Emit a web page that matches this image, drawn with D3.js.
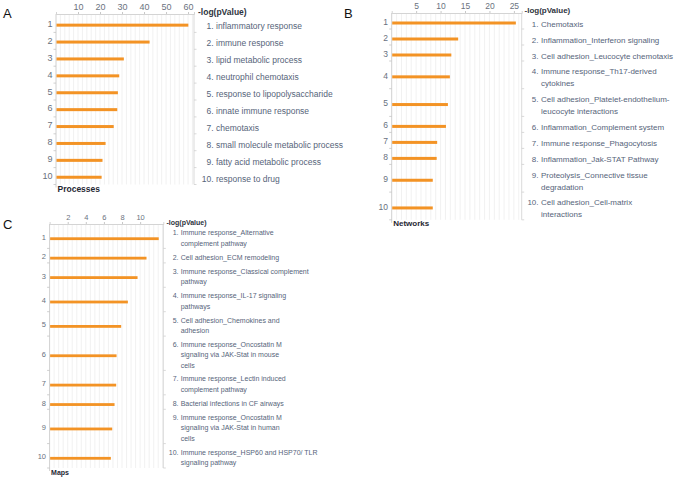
<!DOCTYPE html>
<html><head><meta charset="utf-8">
<script src="https://cdn.jsdelivr.net/npm/d3@7"></script>
<style>
body{margin:0;background:#fff;}
svg{display:block;font-family:"Liberation Sans",Arial,Helvetica,sans-serif;}
</style></head><body>
<svg id="c" width="674" height="479"></svg>
<script>
// ---------- data ----------
const processNames = [
  ["inflammatory response"],["immune response"],["lipid metabolic process"],
  ["neutrophil chemotaxis"],["response to lipopolysaccharide"],["innate immune response"],
  ["chemotaxis"],["small molecule metabolic process"],["fatty acid metabolic process"],
  ["response to drug"]];
const processValues = [59.9, 42.3, 30.6, 28.5, 27.9, 27.6, 26.0, 22.3, 20.9, 20.5];
const processTicks = [10, 20, 30, 40, 50, 60];

const networkNames = [
  ["Chemotaxis"],["Inflammation_Interferon signaling"],["Cell adhesion_Leucocyte chemotaxis"],
  ["Immune response_Th17-derived","cytokines"],["Cell adhesion_Platelet-endothelium-","leucocyte interactions"],
  ["Inflammation_Complement system"],["Immune response_Phagocytosis"],["Inflammation_Jak-STAT Pathway"],
  ["Proteolysis_Connective tissue","degradation"],["Cell adhesion_Cell-matrix","interactions"]];
const networkValues = [25.3, 13.5, 12.1, 11.8, 11.4, 11.0, 9.2, 9.1, 8.3, 8.3];
const networkTicks = [5, 10, 15, 20, 25];

const mapNames = [
  ["Immune response_Alternative","complement pathway"],["Cell adhesion_ECM remodeling"],
  ["Immune response_Classical complement","pathway"],["Immune response_IL-17 signaling","pathways"],
  ["Cell adhesion_Chemokines and","adhesion"],["Immune response_Oncostatin M","signaling via JAK-Stat in mouse","cells"],
  ["Immune response_Lectin induced","complement pathway"],["Bacterial infections in CF airways"],
  ["Immune response_Oncostatin M","signaling via JAK-Stat in human","cells"],
  ["Immune response_HSP60 and HSP70/ TLR","signaling pathway"]];
const mapValues = [12.0, 10.65, 9.66, 8.59, 7.85, 7.34, 7.3, 7.12, 6.86, 6.71];
const mapTicks = [2, 4, 6, 8, 10];

const axisTitle = "-log(pValue)";

// ---------- drawing ----------
const svg = d3.select("#c");
const BAR = "#f39325";

function panel(o){
  const g = svg.append("g");
  const x = d3.scaleLinear().domain([0, o.max]).range([o.left, o.right]);
  // row layout
  const heights = o.names.map(n => o.rowBase + o.rowPer * n.length);
  const starts = [];
  let acc = o.top + o.pad;
  heights.forEach(h => { starts.push(acc); acc += h; });
  const bottom = acc;
  const centers = starts.map((s,i) => s + heights[i]/2);

  // minor grid
  const grid = d3.range(o.minor, o.max, o.minor);
  g.selectAll(".grid").data(grid).enter().append("line")
    .attr("x1", d => x(d)).attr("x2", d => x(d))
    .attr("y1", o.top).attr("y2", bottom)
    .attr("stroke", "#ebebeb").attr("stroke-width", 0.7);

  // top axis
  const ax = d3.axisTop(x).tickValues(o.ticks).tickSize(2).tickPadding(2);
  const axg = g.append("g").attr("transform", `translate(0,${o.top})`).call(ax);
  axg.select(".domain").attr("stroke", "#d4d4d4");
  axg.selectAll(".tick line").attr("stroke", "#c8c8c8");
  axg.selectAll(".tick text").attr("fill", "#6b7380").attr("font-size", o.tickFont)
    .attr("font-family", "Liberation Sans, Arial, sans-serif");

  // left axis line and ticks
  g.append("line").attr("x1", o.left).attr("x2", o.left).attr("y1", o.top).attr("y2", bottom + 3)
    .attr("stroke", "#c4c4c4").attr("stroke-width", 0.8);
  const bounds = starts.slice(1).concat([bottom]);
  g.selectAll(".lt").data(bounds).enter().append("line")
    .attr("x1", o.left - 2.5).attr("x2", o.left).attr("y1", d => d).attr("y2", d => d)
    .attr("stroke", "#c4c4c4").attr("stroke-width", 0.8);
  // right line and ticks
  g.append("line").attr("x1", o.right).attr("x2", o.right).attr("y1", o.top).attr("y2", bottom)
    .attr("stroke", "#cfcfcf").attr("stroke-width", 0.8);
  g.selectAll(".rt").data(bounds).enter().append("line")
    .attr("x1", o.right).attr("x2", o.right + 2.5).attr("y1", d => d).attr("y2", d => d)
    .attr("stroke", "#cfcfcf").attr("stroke-width", 0.8);

  // bars
  g.selectAll(".bar").data(o.values).enter().append("rect")
    .attr("x", x(0) + 0.5).attr("y", (d,i) => centers[i] + o.barOff - o.barH/2)
    .attr("width", d => x(d) - x(0)).attr("height", o.barH).attr("fill", BAR);

  // row numbers
  g.selectAll(".rn").data(o.values).enter().append("text")
    .attr("x", o.numX).attr("y", (d,i) => centers[i] + o.numOff)
    .attr("text-anchor", "end").attr("dominant-baseline", "central")
    .attr("font-size", o.numFont).attr("fill", "#68717e").text((d,i) => i+1);

  // labels
  o.names.forEach((lines, i) => {
    const n = lines.length;
    const c = centers[i] + o.labOff;
    const y0 = c - (n-1)*o.lineH/2;
    g.append("text").attr("x", o.labNumX).attr("y", y0).attr("text-anchor", "end")
      .attr("dominant-baseline", "central").attr("font-size", o.labFont).attr("fill", "#56647a")
      .text((i+1) + ".");
    lines.forEach((t, j) => {
      g.append("text").attr("x", o.labX).attr("y", y0 + j*o.lineH)
        .attr("dominant-baseline", "central").attr("font-size", o.labFont).attr("fill", "#56647a")
        .text(t);
    });
  });

  // axis title
  g.append("text").attr("x", o.titleX).attr("y", o.titleY).attr("dominant-baseline", "central")
    .attr("font-size", o.titleFont).attr("font-weight", "bold").attr("fill", "#2e3440").text(axisTitle);
  // bottom caption
  g.append("text").attr("x", o.left + 1.5).attr("y", bottom + o.capOff).attr("dominant-baseline", "central")
    .attr("font-size", o.titleFont).attr("font-weight", "bold").attr("fill", "#1f2733").text(o.caption);
  // panel letter
  svg.append("text").attr("x", o.letterX).attr("y", o.letterY).attr("dominant-baseline", "central")
    .attr("font-size", 13).attr("fill", "#111").text(o.letter);
}

panel({names: processNames, values: processValues, ticks: processTicks, max: 62.7, minor: 2,
  left: 56, right: 194, top: 14, pad: 1.5, rowBase: 16.9, rowPer: 0,
  barH: 3, barOff: 1.2, numX: 52.5, numOff: 0, numFont: 9, tickFont: 9,
  labNumX: 213.5, labX: 216, labFont: 8.5, labOff: 2.5, lineH: 12,
  titleX: 198, titleY: 12, titleFont: 8.5, caption: "Processes", capOff: 4.5,
  letter: "A", letterX: 3, letterY: 13});

panel({names: networkNames, values: networkValues, ticks: networkTicks, max: 26.6, minor: 1,
  left: 391.7, right: 521.7, top: 13, pad: 0, rowBase: 4.3, rowPer: 11.7,
  barH: 3, barOff: 2, numX: 388, numOff: 0.8, numFont: 8.5, tickFont: 8.5,
  labNumX: 538.5, labX: 541, labFont: 8, labOff: 3, lineH: 12,
  titleX: 524.5, titleY: 10, titleFont: 8, caption: "Networks", capOff: 3.5,
  letter: "B", letterX: 344, letterY: 13});

panel({names: mapNames, values: mapValues, ticks: mapTicks, max: 12.56, minor: 0.5,
  left: 49.6, right: 163.3, top: 224, pad: 0, rowBase: 4.6, rowPer: 9.9,
  barH: 2.8, barOff: 2.5, numX: 46, numOff: 1, numFont: 7.5, tickFont: 7.5,
  labNumX: 178.5, labX: 180.7, labFont: 7, labOff: 1.5, lineH: 10.6,
  titleX: 166.5, titleY: 222, titleFont: 7, caption: "Maps", capOff: 4,
  letter: "C", letterX: 3, letterY: 224});
</script>
</body></html>
